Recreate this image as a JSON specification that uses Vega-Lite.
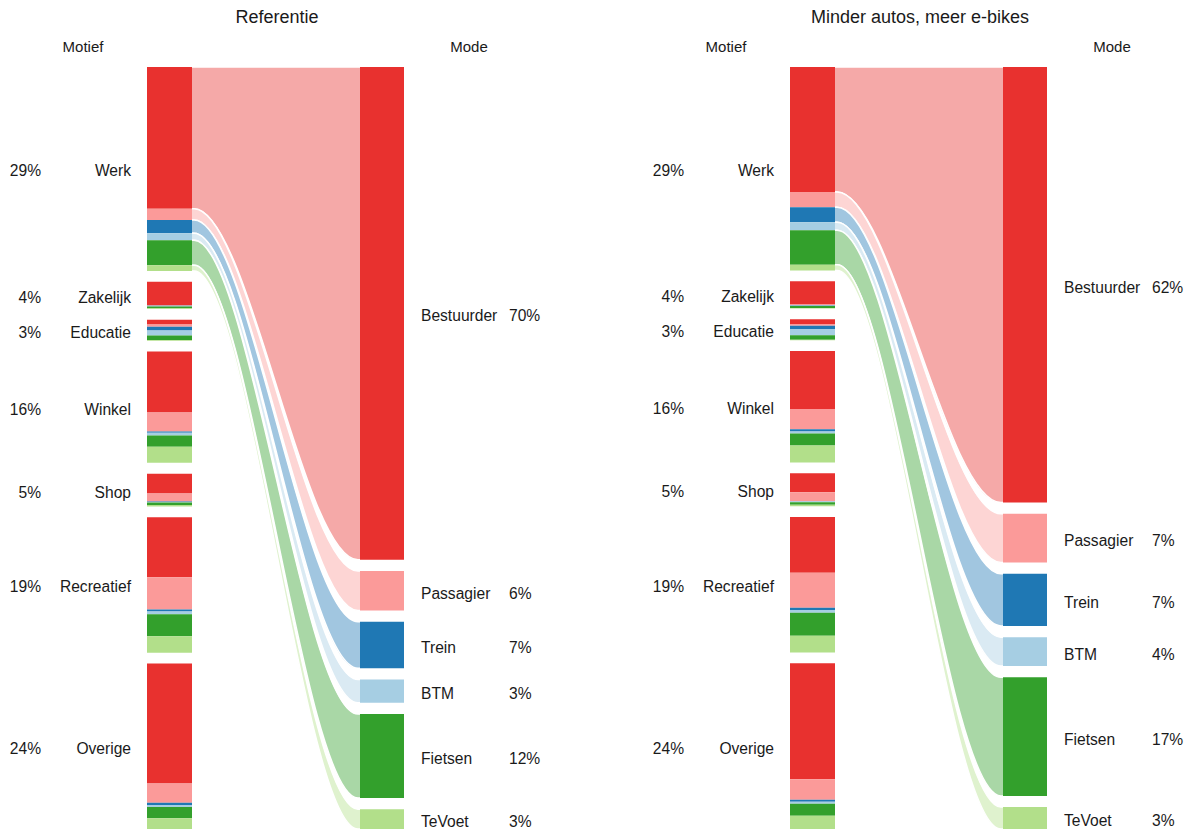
{
  "$schema": "https://vega.github.io/schema/vega-lite/v6.json",
  "padding": 0,
  "autosize": {"type": "pad"},
  "config": {"view": {"stroke": null}, "text": {"font": "Liberation Sans", "fontSize": 15.6, "color": "#1a1a1a"}},
  "data": {"values": [
    {"panel": "Referentie", "level": "Mode", "mode": "Bestuurder", "share": 69.8},
    {"panel": "Referentie", "level": "Mode", "mode": "Passagier", "share": 5.6},
    {"panel": "Referentie", "level": "Mode", "mode": "Trein", "share": 6.6},
    {"panel": "Referentie", "level": "Mode", "mode": "BTM", "share": 3.3},
    {"panel": "Referentie", "level": "Mode", "mode": "Fietsen", "share": 11.9},
    {"panel": "Referentie", "level": "Mode", "mode": "TeVoet", "share": 2.8},
    {"panel": "Minder autos, meer e-bikes", "level": "Mode", "mode": "Bestuurder", "share": 61.7},
    {"panel": "Minder autos, meer e-bikes", "level": "Mode", "mode": "Passagier", "share": 6.9},
    {"panel": "Minder autos, meer e-bikes", "level": "Mode", "mode": "Trein", "share": 7.4},
    {"panel": "Minder autos, meer e-bikes", "level": "Mode", "mode": "BTM", "share": 4.1},
    {"panel": "Minder autos, meer e-bikes", "level": "Mode", "mode": "Fietsen", "share": 16.8},
    {"panel": "Minder autos, meer e-bikes", "level": "Mode", "mode": "TeVoet", "share": 3.1},

    {"panel": "Referentie", "level": "Motief", "motief": "Werk", "mode": "Bestuurder", "share": 20.3},
    {"panel": "Referentie", "level": "Motief", "motief": "Werk", "mode": "Passagier", "share": 1.6},
    {"panel": "Referentie", "level": "Motief", "motief": "Werk", "mode": "Trein", "share": 1.9},
    {"panel": "Referentie", "level": "Motief", "motief": "Werk", "mode": "BTM", "share": 1.0},
    {"panel": "Referentie", "level": "Motief", "motief": "Werk", "mode": "Fietsen", "share": 3.6},
    {"panel": "Referentie", "level": "Motief", "motief": "Werk", "mode": "TeVoet", "share": 0.8},
    {"panel": "Referentie", "level": "Motief", "motief": "Zakelijk", "mode": "Bestuurder", "share": 3.35},
    {"panel": "Referentie", "level": "Motief", "motief": "Zakelijk", "mode": "Passagier", "share": 0.1},
    {"panel": "Referentie", "level": "Motief", "motief": "Zakelijk", "mode": "Trein", "share": 0.05},
    {"panel": "Referentie", "level": "Motief", "motief": "Zakelijk", "mode": "BTM", "share": 0.05},
    {"panel": "Referentie", "level": "Motief", "motief": "Zakelijk", "mode": "Fietsen", "share": 0.25},
    {"panel": "Referentie", "level": "Motief", "motief": "Zakelijk", "mode": "TeVoet", "share": 0.1},
    {"panel": "Referentie", "level": "Motief", "motief": "Educatie", "mode": "Bestuurder", "share": 0.7},
    {"panel": "Referentie", "level": "Motief", "motief": "Educatie", "mode": "Passagier", "share": 0.3},
    {"panel": "Referentie", "level": "Motief", "motief": "Educatie", "mode": "Trein", "share": 0.55},
    {"panel": "Referentie", "level": "Motief", "motief": "Educatie", "mode": "BTM", "share": 0.7},
    {"panel": "Referentie", "level": "Motief", "motief": "Educatie", "mode": "Fietsen", "share": 0.65},
    {"panel": "Referentie", "level": "Motief", "motief": "Educatie", "mode": "TeVoet", "share": 0.1},
    {"panel": "Referentie", "level": "Motief", "motief": "Winkel", "mode": "Bestuurder", "share": 8.75},
    {"panel": "Referentie", "level": "Motief", "motief": "Winkel", "mode": "Passagier", "share": 2.7},
    {"panel": "Referentie", "level": "Motief", "motief": "Winkel", "mode": "Trein", "share": 0.2},
    {"panel": "Referentie", "level": "Motief", "motief": "Winkel", "mode": "BTM", "share": 0.4},
    {"panel": "Referentie", "level": "Motief", "motief": "Winkel", "mode": "Fietsen", "share": 1.6},
    {"panel": "Referentie", "level": "Motief", "motief": "Winkel", "mode": "TeVoet", "share": 2.3},
    {"panel": "Referentie", "level": "Motief", "motief": "Shop", "mode": "Bestuurder", "share": 2.85},
    {"panel": "Referentie", "level": "Motief", "motief": "Shop", "mode": "Passagier", "share": 1.15},
    {"panel": "Referentie", "level": "Motief", "motief": "Shop", "mode": "Trein", "share": 0.05},
    {"panel": "Referentie", "level": "Motief", "motief": "Shop", "mode": "BTM", "share": 0.1},
    {"panel": "Referentie", "level": "Motief", "motief": "Shop", "mode": "Fietsen", "share": 0.35},
    {"panel": "Referentie", "level": "Motief", "motief": "Shop", "mode": "TeVoet", "share": 0.2},
    {"panel": "Referentie", "level": "Motief", "motief": "Recreatief", "mode": "Bestuurder", "share": 8.6},
    {"panel": "Referentie", "level": "Motief", "motief": "Recreatief", "mode": "Passagier", "share": 4.6},
    {"panel": "Referentie", "level": "Motief", "motief": "Recreatief", "mode": "Trein", "share": 0.3},
    {"panel": "Referentie", "level": "Motief", "motief": "Recreatief", "mode": "BTM", "share": 0.4},
    {"panel": "Referentie", "level": "Motief", "motief": "Recreatief", "mode": "Fietsen", "share": 3.15},
    {"panel": "Referentie", "level": "Motief", "motief": "Recreatief", "mode": "TeVoet", "share": 2.35},
    {"panel": "Referentie", "level": "Motief", "motief": "Overige", "mode": "Bestuurder", "share": 17.2},
    {"panel": "Referentie", "level": "Motief", "motief": "Overige", "mode": "Passagier", "share": 2.75},
    {"panel": "Referentie", "level": "Motief", "motief": "Overige", "mode": "Trein", "share": 0.3},
    {"panel": "Referentie", "level": "Motief", "motief": "Overige", "mode": "BTM", "share": 0.3},
    {"panel": "Referentie", "level": "Motief", "motief": "Overige", "mode": "Fietsen", "share": 1.6},
    {"panel": "Referentie", "level": "Motief", "motief": "Overige", "mode": "TeVoet", "share": 1.55},

    {"panel": "Minder autos, meer e-bikes", "level": "Motief", "motief": "Werk", "mode": "Bestuurder", "share": 17.9},
    {"panel": "Minder autos, meer e-bikes", "level": "Motief", "motief": "Werk", "mode": "Passagier", "share": 2.15},
    {"panel": "Minder autos, meer e-bikes", "level": "Motief", "motief": "Werk", "mode": "Trein", "share": 2.15},
    {"panel": "Minder autos, meer e-bikes", "level": "Motief", "motief": "Werk", "mode": "BTM", "share": 1.15},
    {"panel": "Minder autos, meer e-bikes", "level": "Motief", "motief": "Werk", "mode": "Fietsen", "share": 4.95},
    {"panel": "Minder autos, meer e-bikes", "level": "Motief", "motief": "Werk", "mode": "TeVoet", "share": 0.8},
    {"panel": "Minder autos, meer e-bikes", "level": "Motief", "motief": "Zakelijk", "mode": "Bestuurder", "share": 3.35},
    {"panel": "Minder autos, meer e-bikes", "level": "Motief", "motief": "Zakelijk", "mode": "Passagier", "share": 0.1},
    {"panel": "Minder autos, meer e-bikes", "level": "Motief", "motief": "Zakelijk", "mode": "Trein", "share": 0.05},
    {"panel": "Minder autos, meer e-bikes", "level": "Motief", "motief": "Zakelijk", "mode": "BTM", "share": 0.05},
    {"panel": "Minder autos, meer e-bikes", "level": "Motief", "motief": "Zakelijk", "mode": "Fietsen", "share": 0.3},
    {"panel": "Minder autos, meer e-bikes", "level": "Motief", "motief": "Zakelijk", "mode": "TeVoet", "share": 0.05},
    {"panel": "Minder autos, meer e-bikes", "level": "Motief", "motief": "Educatie", "mode": "Bestuurder", "share": 0.67},
    {"panel": "Minder autos, meer e-bikes", "level": "Motief", "motief": "Educatie", "mode": "Passagier", "share": 0.25},
    {"panel": "Minder autos, meer e-bikes", "level": "Motief", "motief": "Educatie", "mode": "Trein", "share": 0.48},
    {"panel": "Minder autos, meer e-bikes", "level": "Motief", "motief": "Educatie", "mode": "BTM", "share": 0.9},
    {"panel": "Minder autos, meer e-bikes", "level": "Motief", "motief": "Educatie", "mode": "Fietsen", "share": 0.62},
    {"panel": "Minder autos, meer e-bikes", "level": "Motief", "motief": "Educatie", "mode": "TeVoet", "share": 0.08},
    {"panel": "Minder autos, meer e-bikes", "level": "Motief", "motief": "Winkel", "mode": "Bestuurder", "share": 8.3},
    {"panel": "Minder autos, meer e-bikes", "level": "Motief", "motief": "Winkel", "mode": "Passagier", "share": 2.9},
    {"panel": "Minder autos, meer e-bikes", "level": "Motief", "motief": "Winkel", "mode": "Trein", "share": 0.3},
    {"panel": "Minder autos, meer e-bikes", "level": "Motief", "motief": "Winkel", "mode": "BTM", "share": 0.3},
    {"panel": "Minder autos, meer e-bikes", "level": "Motief", "motief": "Winkel", "mode": "Fietsen", "share": 1.7},
    {"panel": "Minder autos, meer e-bikes", "level": "Motief", "motief": "Winkel", "mode": "TeVoet", "share": 2.45},
    {"panel": "Minder autos, meer e-bikes", "level": "Motief", "motief": "Shop", "mode": "Bestuurder", "share": 2.7},
    {"panel": "Minder autos, meer e-bikes", "level": "Motief", "motief": "Shop", "mode": "Passagier", "share": 1.3},
    {"panel": "Minder autos, meer e-bikes", "level": "Motief", "motief": "Shop", "mode": "Trein", "share": 0.05},
    {"panel": "Minder autos, meer e-bikes", "level": "Motief", "motief": "Shop", "mode": "BTM", "share": 0.1},
    {"panel": "Minder autos, meer e-bikes", "level": "Motief", "motief": "Shop", "mode": "Fietsen", "share": 0.35},
    {"panel": "Minder autos, meer e-bikes", "level": "Motief", "motief": "Shop", "mode": "TeVoet", "share": 0.2},
    {"panel": "Minder autos, meer e-bikes", "level": "Motief", "motief": "Recreatief", "mode": "Bestuurder", "share": 8.0},
    {"panel": "Minder autos, meer e-bikes", "level": "Motief", "motief": "Recreatief", "mode": "Passagier", "share": 5.0},
    {"panel": "Minder autos, meer e-bikes", "level": "Motief", "motief": "Recreatief", "mode": "Trein", "share": 0.3},
    {"panel": "Minder autos, meer e-bikes", "level": "Motief", "motief": "Recreatief", "mode": "BTM", "share": 0.4},
    {"panel": "Minder autos, meer e-bikes", "level": "Motief", "motief": "Recreatief", "mode": "Fietsen", "share": 3.3},
    {"panel": "Minder autos, meer e-bikes", "level": "Motief", "motief": "Recreatief", "mode": "TeVoet", "share": 2.4},
    {"panel": "Minder autos, meer e-bikes", "level": "Motief", "motief": "Overige", "mode": "Bestuurder", "share": 16.6},
    {"panel": "Minder autos, meer e-bikes", "level": "Motief", "motief": "Overige", "mode": "Passagier", "share": 2.9},
    {"panel": "Minder autos, meer e-bikes", "level": "Motief", "motief": "Overige", "mode": "Trein", "share": 0.3},
    {"panel": "Minder autos, meer e-bikes", "level": "Motief", "motief": "Overige", "mode": "BTM", "share": 0.3},
    {"panel": "Minder autos, meer e-bikes", "level": "Motief", "motief": "Overige", "mode": "Fietsen", "share": 1.7},
    {"panel": "Minder autos, meer e-bikes", "level": "Motief", "motief": "Overige", "mode": "TeVoet", "share": 1.9}
  ]},
  "transform": [
    {"calculate": "indexof(['Werk','Zakelijk','Educatie','Winkel','Shop','Recreatief','Overige'], datum.motief)", "as": "mi"},
    {"calculate": "indexof(['Bestuurder','Passagier','Trein','BTM','Fietsen','TeVoet'], datum.mode)", "as": "mo"},
    {"window": [{"op": "sum", "field": "share", "as": "cum"}], "groupby": ["panel", "level"], "sort": [{"field": "mi", "order": "ascending"}, {"field": "mo", "order": "ascending"}], "frame": [null, 0]},
    {"joinaggregate": [{"op": "sum", "field": "share", "as": "tot"}], "groupby": ["panel", "level"]},
    {"calculate": "datum.level === 'Motief' ? datum.mi : datum.mo", "as": "idx"},
    {"calculate": "datum.level === 'Motief' ? 0.01417 : 0.0147", "as": "gap"},
    {"calculate": "datum.level === 'Motief' ? 6 : 5", "as": "ngap"},
    {"calculate": "datum.idx * datum.gap + (datum.cum - datum.share) / datum.tot * (1 - datum.ngap * datum.gap)", "as": "y0"},
    {"calculate": "datum.idx * datum.gap + datum.cum / datum.tot * (1 - datum.ngap * datum.gap)", "as": "y1"},
    {"calculate": "datum.level === 'Mode' ? datum.y0 : null", "as": "mt"},
    {"calculate": "datum.level === 'Mode' ? datum.y1 : null", "as": "mb"},
    {"joinaggregate": [{"op": "max", "field": "mt", "as": "modeTop"}, {"op": "max", "field": "mb", "as": "modeBot"}], "groupby": ["panel", "mode"]}
  ],
  "facet": {"column": {"field": "panel", "type": "nominal", "sort": ["Referentie", "Minder autos, meer e-bikes"], "header": null}},
  "spacing": 88,
  "spec": {
    "width": 555,
    "height": 829,
    "layer": [
      {
        "transform": [
          {"filter": "datum.level === 'Motief' && datum.motief === 'Werk'"},
          {"calculate": "[0, 1, 2, 3]", "as": "pts"},
          {"flatten": ["pts"]},
          {"calculate": "datum.pts === 0 ? 190 : datum.pts === 1 ? 194 : datum.pts === 2 ? 358 : 362", "as": "fx"},
          {"calculate": "datum.pts < 2 ? datum.y0 : datum.modeTop", "as": "fy"},
          {"calculate": "datum.pts < 2 ? datum.y1 : datum.modeBot", "as": "fy2"}
        ],
        "mark": {"type": "area", "interpolate": "monotone", "fillOpacity": 0.42, "stroke": "white", "strokeWidth": 1.5, "strokeOpacity": 1},
        "encoding": {
          "x": {"field": "fx", "type": "quantitative", "scale": {"domain": [0, 555], "nice": false, "zero": false}, "axis": null},
          "y": {"field": "fy", "type": "quantitative", "scale": {"domain": [-0.087927, 1], "reverse": true, "nice": false, "zero": false}, "axis": null},
          "y2": {"field": "fy2"},
          "color": {"field": "mode", "type": "nominal", "scale": {"domain": ["Bestuurder", "Passagier", "Trein", "BTM", "Fietsen", "TeVoet"], "range": ["#e8312f", "#fb9a99", "#1f78b4", "#a6cee3", "#33a02c", "#b2df8a"]}, "legend": null},
          "detail": {"field": "mode"}
        }
      },
      {
        "transform": [{"filter": "datum.level === 'Motief'"}],
        "mark": {"type": "rect"},
        "encoding": {
          "x": {"datum": 147, "type": "quantitative", "scale": {"domain": [0, 555], "nice": false, "zero": false}, "axis": null},
          "x2": {"datum": 192},
          "y": {"field": "y0", "type": "quantitative", "scale": {"domain": [-0.087927, 1], "reverse": true, "nice": false, "zero": false}, "axis": null},
          "y2": {"field": "y1"},
          "color": {"field": "mode", "type": "nominal", "legend": null}
        }
      },
      {
        "transform": [{"filter": "datum.level === 'Mode'"}],
        "mark": {"type": "rect"},
        "encoding": {
          "x": {"datum": 360, "type": "quantitative", "scale": {"domain": [0, 555], "nice": false, "zero": false}, "axis": null},
          "x2": {"datum": 404},
          "y": {"field": "y0", "type": "quantitative", "scale": {"domain": [-0.087927, 1], "reverse": true, "nice": false, "zero": false}, "axis": null},
          "y2": {"field": "y1"},
          "color": {"field": "mode", "type": "nominal", "legend": null}
        }
      },
      {
        "transform": [
          {"filter": "datum.level === 'Motief'"},
          {"aggregate": [{"op": "min", "field": "y0", "as": "t"}, {"op": "max", "field": "y1", "as": "b"}, {"op": "sum", "field": "share", "as": "s"}], "groupby": ["panel", "motief"]},
          {"calculate": "(datum.t + datum.b) / 2", "as": "ym"},
          {"calculate": "format(datum.s, '.0f') + '%'", "as": "pct"}
        ],
        "encoding": {
          "y": {"field": "ym", "type": "quantitative", "scale": {"domain": [-0.087927, 1], "reverse": true, "nice": false, "zero": false}, "axis": null}
        },
        "layer": [
          {
            "mark": {"type": "text", "align": "right", "baseline": "middle", "dy": 2.5},
            "encoding": {
              "x": {"datum": 131, "type": "quantitative", "scale": {"domain": [0, 555], "nice": false, "zero": false}, "axis": null},
              "text": {"field": "motief"}
            }
          },
          {
            "mark": {"type": "text", "align": "right", "baseline": "middle", "dy": 2.5},
            "encoding": {
              "x": {"datum": 41, "type": "quantitative", "scale": {"domain": [0, 555], "nice": false, "zero": false}, "axis": null},
              "text": {"field": "pct"}
            }
          }
        ]
      },
      {
        "transform": [
          {"filter": "datum.level === 'Mode'"},
          {"calculate": "(datum.y0 + datum.y1) / 2", "as": "ym"},
          {"calculate": "format(datum.share, '.0f') + '%'", "as": "pct"}
        ],
        "encoding": {
          "y": {"field": "ym", "type": "quantitative", "scale": {"domain": [-0.087927, 1], "reverse": true, "nice": false, "zero": false}, "axis": null}
        },
        "layer": [
          {
            "mark": {"type": "text", "align": "left", "baseline": "middle", "dy": 3},
            "encoding": {
              "x": {"datum": 421, "type": "quantitative", "scale": {"domain": [0, 555], "nice": false, "zero": false}, "axis": null},
              "text": {"field": "mode"}
            }
          },
          {
            "mark": {"type": "text", "align": "left", "baseline": "middle", "dy": 3},
            "encoding": {
              "x": {"datum": 509, "type": "quantitative", "scale": {"domain": [0, 555], "nice": false, "zero": false}, "axis": null},
              "text": {"field": "pct"}
            }
          }
        ]
      },
      {
        "transform": [
          {"aggregate": [{"op": "count", "as": "c"}], "groupby": ["panel"]}
        ],
        "layer": [
          {
            "mark": {"type": "text", "align": "center", "baseline": "middle", "fontSize": 18},
            "encoding": {
              "x": {"datum": 277, "type": "quantitative", "scale": {"domain": [0, 555], "nice": false, "zero": false}, "axis": null},
              "y": {"datum": -0.0643, "type": "quantitative", "scale": {"domain": [-0.087927, 1], "reverse": true, "nice": false, "zero": false}, "axis": null},
              "text": {"field": "panel"}
            }
          },
          {
            "mark": {"type": "text", "align": "center", "baseline": "middle", "fontSize": 15},
            "encoding": {
              "x": {"datum": 83, "type": "quantitative", "scale": {"domain": [0, 555], "nice": false, "zero": false}, "axis": null},
              "y": {"datum": -0.0268, "type": "quantitative", "scale": {"domain": [-0.087927, 1], "reverse": true, "nice": false, "zero": false}, "axis": null},
              "text": {"value": "Motief"}
            }
          },
          {
            "mark": {"type": "text", "align": "center", "baseline": "middle", "fontSize": 15},
            "encoding": {
              "x": {"datum": 469, "type": "quantitative", "scale": {"domain": [0, 555], "nice": false, "zero": false}, "axis": null},
              "y": {"datum": -0.0268, "type": "quantitative", "scale": {"domain": [-0.087927, 1], "reverse": true, "nice": false, "zero": false}, "axis": null},
              "text": {"value": "Mode"}
            }
          }
        ]
      }
    ]
  }
}
